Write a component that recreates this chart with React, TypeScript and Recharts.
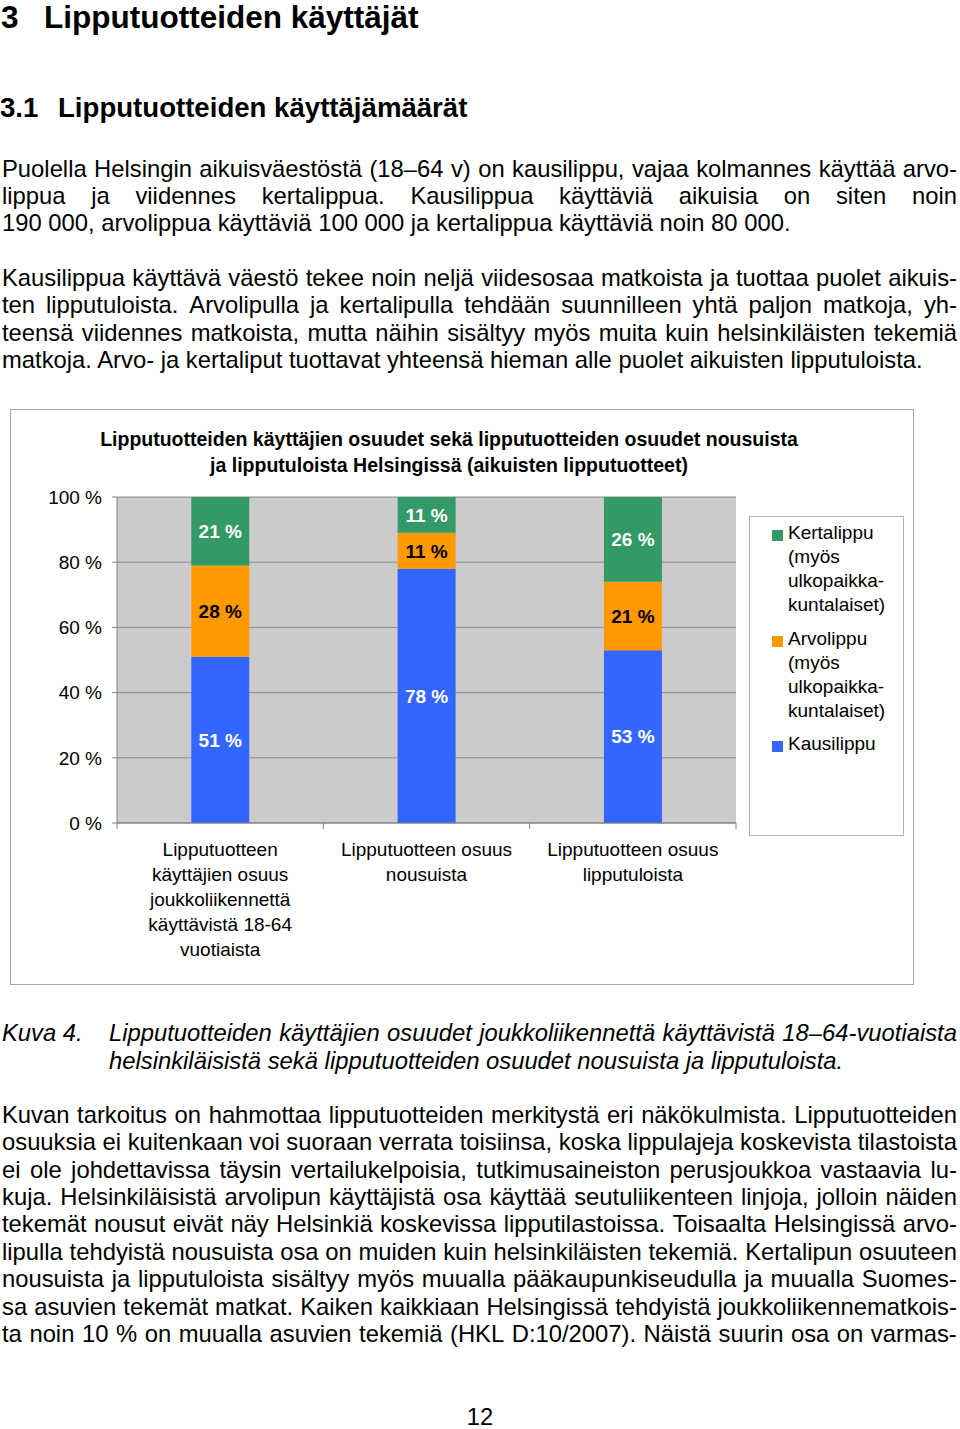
import React from 'react';
import { BarChart, Bar, XAxis, YAxis, CartesianGrid, Legend, LabelList } from 'recharts';

// ---- chart data ----
const categories = [
  'Lipputuotteen\nkäyttäjien osuus\njoukkoliikennettä\nkäyttävistä 18-64\nvuotiaista',
  'Lipputuotteen osuus\nnousuista',
  'Lipputuotteen osuus\nlipputuloista',
];
const kausilippu = [51, 78, 53];
const arvolippu = [28, 11, 21];
const kertalippu = [21, 11, 26];
const seriesNames = [
  'Kausilippu',
  'Arvolippu (myös ulkopaikka-kuntalaiset)',
  'Kertalippu (myös ulkopaikka-kuntalaiset)',
];
const yTicks = [0, 20, 40, 60, 80, 100];
const chartTitle = [
  'Lipputuotteiden käyttäjien osuudet sekä lipputuotteiden osuudet nousuista',
  'ja lipputuloista Helsingissä (aikuisten lipputuotteet)',
];

// ---- page text ----
const heading1 = ['3', 'Lipputuotteiden käyttäjät'];
const heading2 = ['3.1', 'Lipputuotteiden käyttäjämäärät'];
const para1 = [
  'Puolella Helsingin aikuisväestöstä (18–64 v) on kausilippu, vajaa kolmannes käyttää arvo-',
  'lippua ja viidennes kertalippua. Kausilippua käyttäviä aikuisia on siten noin',
  '190 000, arvolippua käyttäviä 100 000 ja kertalippua käyttäviä noin 80 000.',
];
const para2 = [
  'Kausilippua käyttävä väestö tekee noin neljä viidesosaa matkoista ja tuottaa puolet aikuis-',
  'ten lipputuloista. Arvolipulla ja kertalipulla tehdään suunnilleen yhtä paljon matkoja, yh-',
  'teensä viidennes matkoista, mutta näihin sisältyy myös muita kuin helsinkiläisten tekemiä',
  'matkoja. Arvo- ja kertaliput tuottavat yhteensä hieman alle puolet aikuisten lipputuloista.',
];
const captionLabel = 'Kuva 4.';
const caption = [
  'Lipputuotteiden käyttäjien osuudet joukkoliikennettä käyttävistä 18–64-vuotiaista',
  'helsinkiläisistä sekä lipputuotteiden osuudet nousuista ja lipputuloista.',
];
const para3 = [
  'Kuvan tarkoitus on hahmottaa lipputuotteiden merkitystä eri näkökulmista. Lipputuotteiden',
  'osuuksia ei kuitenkaan voi suoraan verrata toisiinsa, koska lippulajeja koskevista tilastoista',
  'ei ole johdettavissa täysin vertailukelpoisia, tutkimusaineiston perusjoukkoa vastaavia lu-',
  'kuja. Helsinkiläisistä arvolipun käyttäjistä osa käyttää seutuliikenteen linjoja, jolloin näiden',
  'tekemät nousut eivät näy Helsinkiä koskevissa lipputilastoissa. Toisaalta Helsingissä arvo-',
  'lipulla tehdyistä nousuista osa on muiden kuin helsinkiläisten tekemiä. Kertalipun osuuteen',
  'nousuista ja lipputuloista sisältyy myös muualla pääkaupunkiseudulla ja muualla Suomes-',
  'sa asuvien tekemät matkat. Kaiken kaikkiaan Helsingissä tehdyistä joukkoliikennematkois-',
  'ta noin 10 % on muualla asuvien tekemiä (HKL D:10/2007). Näistä suurin osa on varmas-',
];
const pageNumber = '12';

const data = categories.map((c, i) => ({
  name: c,
  kausi: kausilippu[i],
  arvo: arvolippu[i],
  kerta: kertalippu[i],
}));

const FONT = '"Liberation Sans", Arial, Helvetica, sans-serif';
const GREEN = '#339966';
const ORANGE = '#FF9900';
const BLUE = '#3366FF';
const BODY = 23.8;

const pct = (v: any) => `${v} %`;

const XTick = (props: any) => {
  const { x, y, payload, index } = props;
  const lines = String(payload.value).split('\n');
  const off = payload && typeof payload.offset === 'number' ? payload.offset : 0;
  return (
    <g>
      {off > 0 && <line x1={x - off} x2={x - off} y1={y} y2={y + 6} stroke="#808080" />}
      {off > 0 && index === categories.length - 1 && (
        <line x1={x + off} x2={x + off} y1={y} y2={y + 6} stroke="#808080" />
      )}
      {lines.map((l, i) => (
        <text key={i} x={x} y={y + 33 + i * 25} textAnchor="middle" fontSize={19} fill="#000" fontFamily={FONT}>
          {l}
        </text>
      ))}
    </g>
  );
};

const LegendBox = (props: any) => {
  const payload = [...(props.payload || [])].sort(
    (a: any, b: any) => seriesNames.indexOf(b.value) - seriesNames.indexOf(a.value)
  );
  return (
    <div
      style={{
        width: 155,
        height: 320,
        border: '1px solid #b0b0b0',
        background: '#fff',
        boxSizing: 'border-box',
        padding: '4px 0 0 22px',
        fontFamily: FONT,
      }}
    >
      {payload.map((p: any, i: number) => (
        <div key={i} style={{ display: 'flex', marginBottom: 9.5 }}>
          <span
            style={{ width: 11, height: 11, background: p.color, marginTop: 9, marginRight: 5, flex: 'none' }}
          />
          <span style={{ width: 110, fontSize: 19, lineHeight: '24px', color: '#000' }}>{p.value}</span>
        </div>
      ))}
    </div>
  );
};

const Line = ({ text, top, left = 2, width = 955, justify = false, size = BODY, weight = 400, italic = false, lh = 28 }: any) => {
  const common: React.CSSProperties = {
    position: 'absolute',
    left,
    top,
    width,
    height: lh,
    lineHeight: `${lh}px`,
    fontSize: size,
    fontWeight: weight,
    fontStyle: italic ? 'italic' : 'normal',
    fontFamily: FONT,
    color: '#000',
    whiteSpace: 'nowrap',
  };
  if (justify) {
    const words = text.split(' ');
    return (
      <div style={{ ...common, display: 'flex', justifyContent: 'space-between' }}>
        {words.map((w: string, i: number) => (
          <span key={i}>{w}</span>
        ))}
      </div>
    );
  }
  return <div style={common}>{text}</div>;
};

export default function App() {
  const p1Centers = [170, 197, 224];
  const p2Centers = [279, 306, 334, 361];
  const p3Centers = [1116, 1143, 1171, 1198, 1225, 1253, 1280, 1308, 1335];
  return (
    <div style={{ position: 'absolute', left: 0, top: 0, width: 960, height: 1429, background: '#fff', overflow: 'hidden' }}>
      <Line text={heading1[0]} top={0} left={1} width={40} size={31.5} weight={700} lh={35} />
      <Line text={heading1[1]} top={0} left={44} width={500} size={31.5} weight={700} lh={35} />
      <Line text={heading2[0]} top={92} left={0} width={50} size={27.6} weight={700} lh={32} />
      <Line text={heading2[1]} top={92} left={58} width={500} size={27.6} weight={700} lh={32} />

      {para1.map((t, i) => (
        <Line key={'a' + i} text={t} top={p1Centers[i] - 15} justify={i < para1.length - 1} />
      ))}
      {para2.map((t, i) => (
        <Line key={'b' + i} text={t} top={p2Centers[i] - 15} justify={i < para2.length - 1} />
      ))}

      {/* chart frame */}
      <div
        style={{
          position: 'absolute',
          left: 10,
          top: 409,
          width: 904,
          height: 576,
          border: '1px solid #a8a8a8',
          boxSizing: 'border-box',
          background: '#fff',
          fontFamily: FONT,
        }}
      >
        <BarChart
          width={902}
          height={574}
          data={data}
          margin={{ top: 87, right: 22, bottom: 21, left: 46 }}
          barCategoryGap="36%"
        >
          <CartesianGrid vertical={false} stroke="#8c8c8c" fill="#CBCBCB" />
          <XAxis
            dataKey="name"
            height={140}
            interval={0}
            tick={(p: any) => <XTick {...p} />}
            tickLine={false}
            tickSize={0}
            tickMargin={0}
            axisLine={{ stroke: '#808080' }}
          />
          <YAxis
            width={60}
            domain={[0, 100]}
            ticks={yTicks}
            tickFormatter={pct}
            tick={{ fill: '#000', fontSize: 19, fontFamily: FONT }}
            tickSize={5}
            tickMargin={10}
            axisLine={{ stroke: '#808080' }}
            tickLine={{ stroke: '#808080' }}
          />
          <Legend
            layout="horizontal"
            verticalAlign="middle"
            align="right"
            wrapperStyle={{ left: 738, top: 106, width: 155, height: 320 }}
            content={(p: any) => <LegendBox {...p} />}
          />
          <Bar dataKey="kausi" name={seriesNames[0]} stackId="s" fill={BLUE} isAnimationActive={false}>
            <LabelList dataKey="kausi" position="center" formatter={pct} fill="#fff" fontWeight="bold" fontSize={19} fontFamily={FONT} />
          </Bar>
          <Bar dataKey="arvo" name={seriesNames[1]} stackId="s" fill={ORANGE} isAnimationActive={false}>
            <LabelList dataKey="arvo" position="center" formatter={pct} fill="#000" fontWeight="bold" fontSize={19} fontFamily={FONT} />
          </Bar>
          <Bar dataKey="kerta" name={seriesNames[2]} stackId="s" fill={GREEN} isAnimationActive={false}>
            <LabelList dataKey="kerta" position="center" formatter={pct} fill="#fff" fontWeight="bold" fontSize={19} fontFamily={FONT} />
          </Bar>
        </BarChart>
        <div
          style={{
            position: 'absolute',
            left: 0,
            top: 16,
            width: 876,
            textAlign: 'center',
            fontFamily: FONT,
            fontWeight: 700,
            fontSize: 19.5,
            lineHeight: '26px',
            color: '#000',
            pointerEvents: 'none',
          }}
        >
          {chartTitle.map((t, i) => (
            <div key={i}>{t}</div>
          ))}
        </div>
      </div>

      <Line text={captionLabel} top={1034 - 15} left={2} width={100} italic />
      <Line text={caption[0]} top={1034 - 15} left={109} width={848} italic justify />
      <Line text={caption[1]} top={1062 - 15} left={109} width={848} italic />

      {para3.map((t, i) => (
        <Line key={'c' + i} text={t} top={p3Centers[i] - 15} justify />
      ))}

      <div
        style={{
          position: 'absolute',
          left: 0,
          width: 960,
          top: 1418 - 15,
          lineHeight: '28px',
          fontSize: BODY,
          fontFamily: FONT,
          textAlign: 'center',
          color: '#000',
        }}
      >
        {pageNumber}
      </div>
    </div>
  );
}
